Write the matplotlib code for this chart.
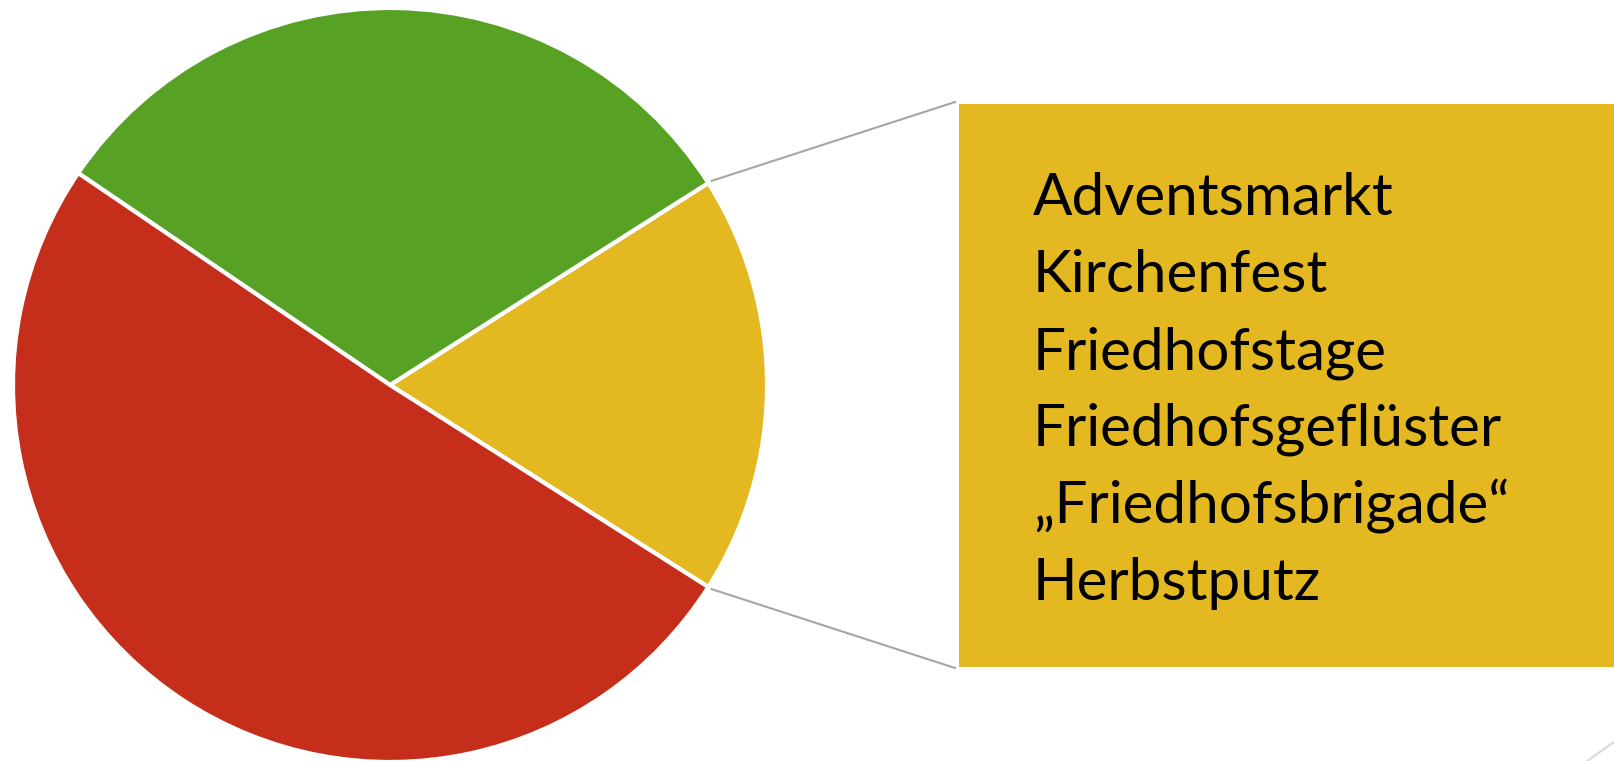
import numpy as np
import matplotlib.pyplot as plt
from matplotlib.patches import Rectangle

# slice shares (percent), counter-clockwise from the right
slices = ["Gelb", "Grün", "Rot"]
shares = [18, 31.5, 50.5]
colors = ["#E4B820", "#57A225", "#C42E1B"]

# items listed in the breakout box
items = ["Adventsmarkt", "Kirchenfest", "Friedhofstage",
         "Friedhofsgeflüster", "„Friedhofsbrigade“", "Herbstputz"]

W, H = 1614, 761
fig = plt.figure(figsize=(W / 100, H / 100), dpi=100)
ax = fig.add_axes([0, 0, 1, 1])

cx, cy, r = 390, H - 385, 377
start = -shares[0] / 100 * 360 / 2
wedges, _ = ax.pie(shares, colors=colors, startangle=start, center=(cx, cy),
                   radius=r, wedgeprops=dict(edgecolor="white", linewidth=3))

ax.set_xlim(0, W)
ax.set_ylim(0, H)
ax.set_aspect("auto")
ax.axis("off")

# breakout box
bx0, by_top, by_bot = 959, H - 104, H - 667
ax.add_patch(Rectangle((bx0, by_bot), W - bx0, by_top - by_bot,
                       facecolor="#E4B820", edgecolor="none"))

# connector lines from the yellow slice edges to the box corners
for ang, (tx, ty) in [(wedges[0].theta2, (bx0 - 4, by_top + 2)),
                      (wedges[0].theta1, (bx0 - 4, by_bot - 1))]:
    a = np.radians(ang)
    px = cx + (r + 4) * np.cos(a)
    py = cy + (r + 4) * np.sin(a)
    ax.plot([px, tx], [py, ty], color="#A6A6A6", linewidth=1.5)

for i, t in enumerate(items):
    ax.text(1033, H - (215 + 77 * i), t, fontsize=42, family="Lato",
            color="black", va="baseline", ha="left")

# faint corner line
ax.plot([1587, 1614], [0, 19], color="#D9D9D9", linewidth=1.5)

fig.savefig("out.png", dpi=100)
